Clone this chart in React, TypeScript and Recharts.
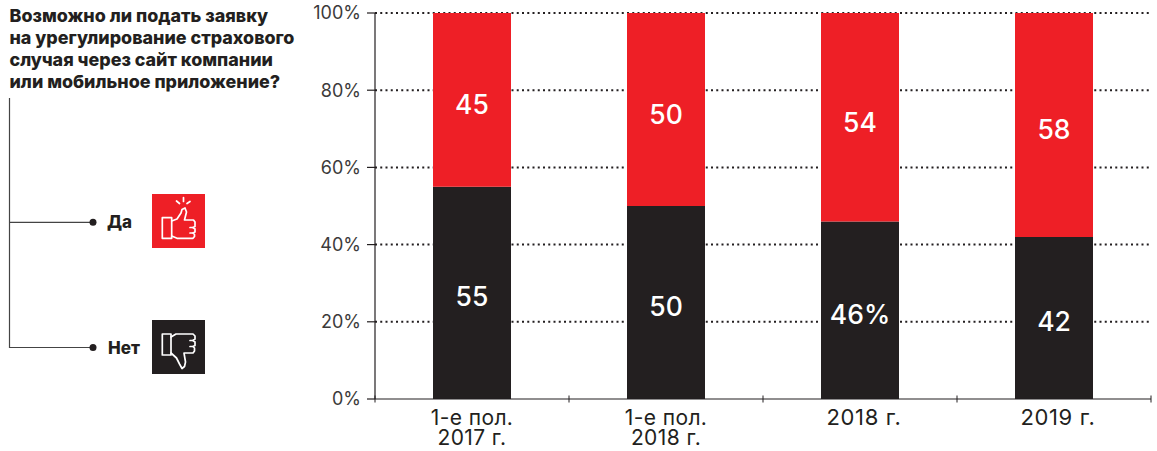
import { Bar, BarChart, CartesianGrid, LabelList, XAxis, YAxis } from "recharts";

const RED = "#EE1F26";
const BLACK = "#231F20";

const categories = ["1-е пол.|2017 г.", "1-е пол.|2018 г.", "2018 г.", "2019 г."];
const noValues = [55, 50, 46, 42];
const yesValues = [45, 50, 54, 58];
const noLabels = ["55", "50", "46%", "42"];
const yesLabels = ["45", "50", "54", "58"];
const yTicks = [0, 20, 40, 60, 80, 100];
const gridValues = [20, 40, 60, 80, 100];
const titleLines = [
  "Возможно ли подать заявку",
  "на урегулирование страхового",
  "случая через сайт компании",
  "или мобильное приложение?",
];

const chartData = categories.map((name, i) => ({
  name,
  no: noValues[i],
  yes: yesValues[i],
  noLabel: noLabels[i],
  yesLabel: yesLabels[i],
}));

const STEP = 194;

const CategoryTick = ({ x, y, payload, index }: any) => {
  const lines = String(payload.value).split("|");
  // the single-line labels sit a little to the right and run wider in the original
  const single = lines.length === 1;
  const labelX = single ? x + 4 : x;
  return (
    <g>
      <line x1={x - STEP / 2} x2={x - STEP / 2} y1={y - 3.5} y2={y + 3.5} stroke={BLACK} />
      {index === categories.length - 1 && (
        <line x1={x + STEP / 2} x2={x + STEP / 2} y1={y - 3.5} y2={y + 3.5} stroke={BLACK} />
      )}
      <text
        x={labelX}
        y={y + 26}
        textAnchor="middle"
        fontFamily="Inter"
        fontSize={single ? 22 : 21}
        letterSpacing={single ? 0.6 : 0.4}
        fill={BLACK}
      >
        {lines.map((line, i) => (
          <tspan key={line} x={labelX} dy={i === 0 ? 0 : 20}>
            {line}
          </tspan>
        ))}
      </text>
    </g>
  );
};

const Legend = () => (
  <svg
    width={300}
    height={451}
    style={{ position: "absolute", left: 0, top: 0 }}
  >
    {titleLines.map((line, i) => (
      <text
        key={line}
        x={9.5}
        y={21.5 + i * 22.3}
        fontFamily="Inter"
        fontWeight={800}
        fontSize={17.9}
        fill={BLACK}
      >
        {line}
      </text>
    ))}
    <path d="M9.5 98V348M9.5 222.3H93M9.5 347.5H93" fill="none" stroke="#444" strokeWidth={1.2} />
    <circle cx={93} cy={222.3} r={3.5} fill={BLACK} />
    <circle cx={93} cy={347.5} r={3.5} fill={BLACK} />
    <text x={107} y={228} fontFamily="Inter" fontWeight={800} fontSize={17} fill={BLACK}>
      Да
    </text>
    <text x={108} y={353.5} fontFamily="Inter" fontWeight={800} fontSize={17} fill={BLACK}>
      Нет
    </text>

    <g transform="translate(152 194)">
      <rect width={53} height={54} fill={RED} />
      <g fill="none" stroke="#fff" strokeWidth={1.7} strokeLinejoin="round" strokeLinecap="round">
        <rect x={10.3} y={23.7} width={9.4} height={20.6} />
        <path d="M19.7 27L25 25L29 19L30 15.5L33 14L34.5 18L32.5 26H41.5L43 28V32.5L41 33.5L43 35V38L41 39L42.5 40.5V42.5L41 44.3H25L19.7 42" />
        <path d="M38 33.5H41M38 39H41" />
        <path d="M27.5 9.5L24.5 7M31.5 7.5V3.5M35 9.5L38 7.5" />
      </g>
    </g>

    <g transform="translate(152 320)">
      <rect width={53} height={54} fill={BLACK} />
      <g fill="none" stroke="#fff" strokeWidth={1.7} strokeLinejoin="round" strokeLinecap="round">
        <rect x={10.3} y={14} width={8.7} height={21} />
        <path d="M19 17L24 14H41L43 16V19L41 20.5L43 22V25.5L41 26.5L42.5 28V31L41 33H32L33.5 42L32.5 46.5L30 48.5L27.5 44L24.5 38L19 33" />
        <path d="M38 20.5H41M38 26.5H41" />
      </g>
    </g>
  </svg>
);

export default function App() {
  return (
    <div style={{ position: "absolute", left: 0, top: 0, width: 1157, height: 451 }}>
      <Legend />
      <BarChart
        width={1157}
        height={451}
        data={chartData}
        barSize={78}
        margin={{ top: 13, right: 6, bottom: 0, left: 0 }}
      >
        <CartesianGrid
          vertical={false}
          horizontalValues={gridValues}
          stroke={BLACK}
          strokeWidth={2}
          strokeDasharray="2 3.25"
        />
        <XAxis
          dataKey="name"
          interval={0}
          height={52}
          axisLine={{ stroke: BLACK, strokeWidth: 1.2 }}
          tickLine={false}
          tickSize={0}
          tickMargin={0}
          tick={<CategoryTick />}
        />
        <YAxis
          width={375}
          domain={[0, 100]}
          ticks={yTicks}
          tickSize={8}
          tickMargin={6}
          tickFormatter={(v: number) => `${v}%`}
          axisLine={{ stroke: BLACK, strokeWidth: 1.2 }}
          tickLine={{ stroke: BLACK, strokeWidth: 1.2 }}
          tick={{ fontFamily: "Inter", fontSize: 18, fill: "#3c3a3a" }}
        />
        <Bar dataKey="no" stackId="a" fill={BLACK} isAnimationActive={false}>
          <LabelList
            dataKey="noLabel"
            position="center"
            fill="#fff"
            fontFamily="Inter"
            fontWeight={500}
            fontSize={26.5}
            dy={4}
          />
        </Bar>
        <Bar dataKey="yes" stackId="a" fill={RED} isAnimationActive={false}>
          <LabelList
            dataKey="yesLabel"
            position="center"
            fill="#fff"
            fontFamily="Inter"
            fontWeight={500}
            fontSize={26.5}
            dy={5}
          />
        </Bar>
      </BarChart>
    </div>
  );
}
